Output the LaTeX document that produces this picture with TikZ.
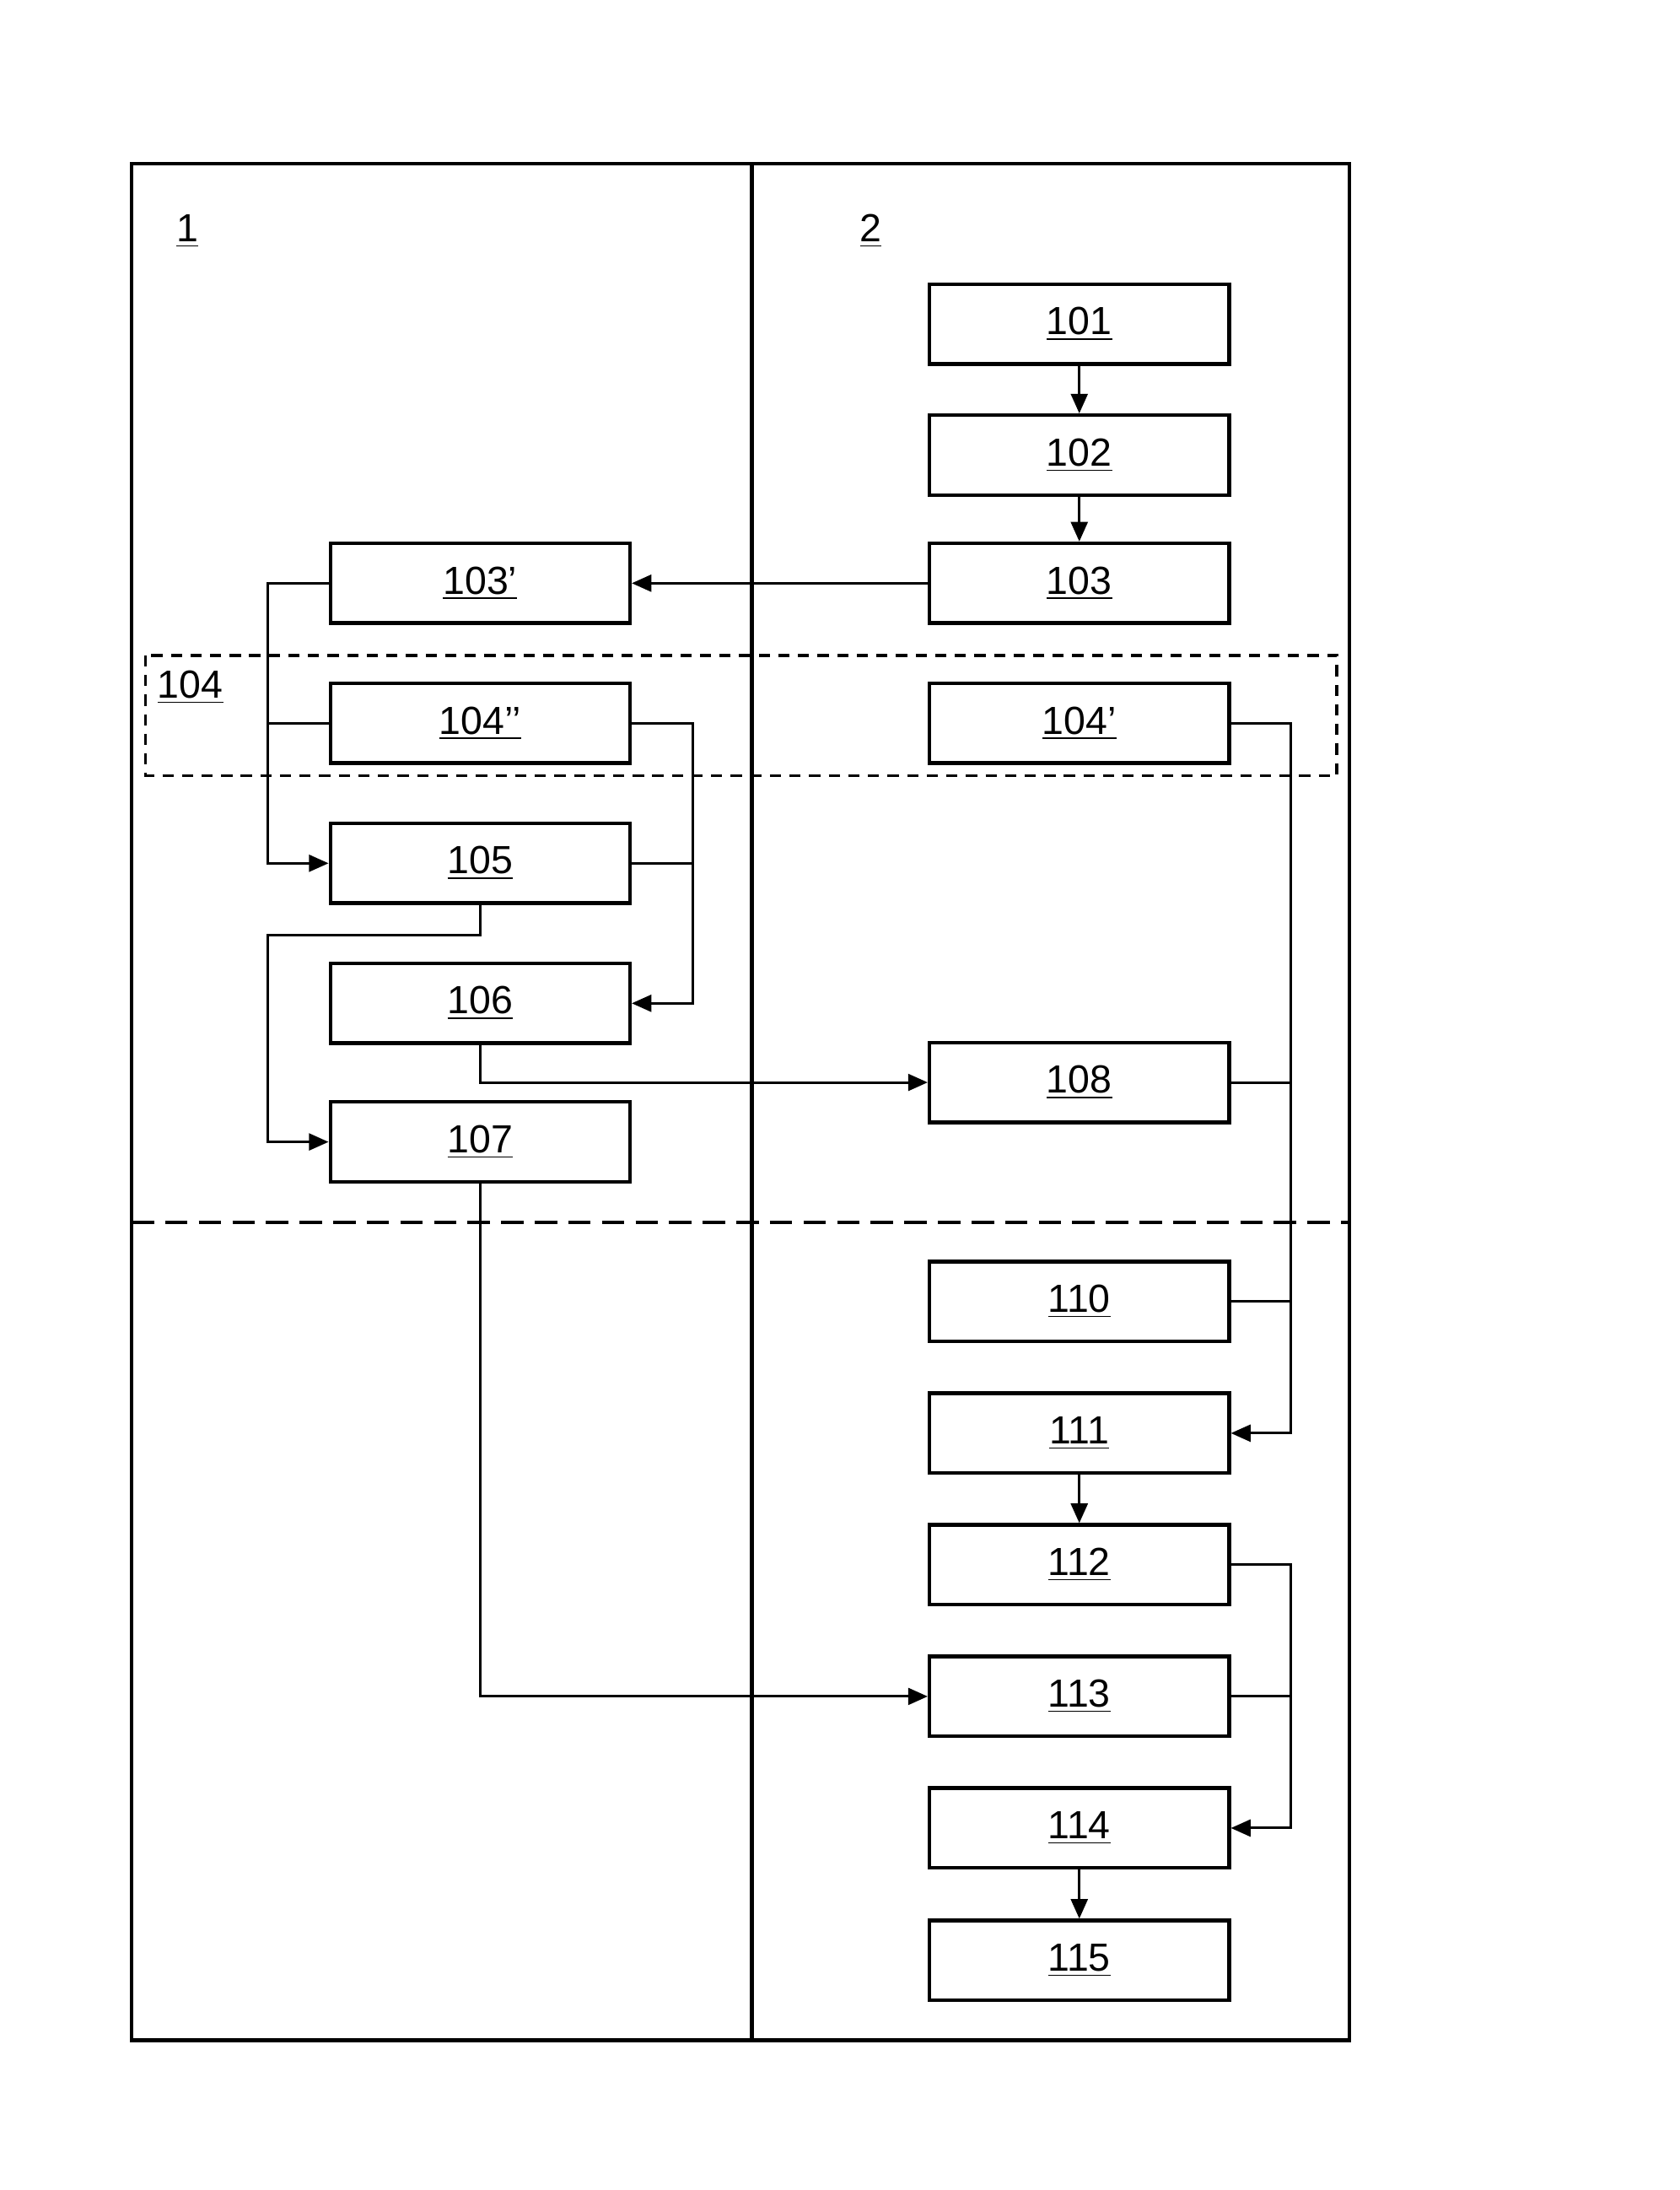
\documentclass[tikz,border=0pt]{standalone}
\usepackage{fontspec}
\setmainfont{Liberation Sans}
\usetikzlibrary{arrows.meta}
\begin{document}
\begin{tikzpicture}[x=0.5pt,y=-0.5pt,
  box/.style={draw,line width=1.3pt,minimum width=107pt,minimum height=28.5pt,inner sep=0pt,font=\fontsize{14}{16}\selectfont},
  lbl/.style={font=\fontsize{14}{16}\selectfont},
  con/.style={line width=0.9pt},
  arr/.style={con,-{Triangle[length=7pt,width=6pt]}}]
\useasboundingbox (0,0) rectangle (1200,1564);
\draw[line width=1.3pt] (94,117) rectangle (964,1457);
\draw[line width=1.3pt] (537,117) -- (537,1457);
\draw[line width=1.3pt,dash pattern=on 8pt off 4pt] (94,873) -- (964,873);
\draw[line width=1.1pt,dash pattern=on 4pt off 3pt] (104,468) rectangle (955,554);
\node[lbl] (l1) at (134,165) {\underline{1}};
\node[lbl] (l2) at (622,165) {\underline{2}};
\node[lbl] (l104) at (136,491) {\underline{104}};
\node[box] (n101) at (771,231.5) {\underline{101}};
\node[box] (n102) at (771,325) {\underline{102}};
\node[box] (n103) at (771,416.5) {\underline{103}};
\node[box] (n104a) at (771,516.5) {\underline{104’}};
\node[box] (n108) at (771,773) {\underline{108}};
\node[box] (n110) at (771,929.5) {\underline{110}};
\node[box] (n111) at (771,1023.5) {\underline{111}};
\node[box] (n112) at (771,1117.5) {\underline{112}};
\node[box] (n113) at (771,1211.5) {\underline{113}};
\node[box] (n114) at (771,1305.5) {\underline{114}};
\node[box] (n115) at (771,1400) {\underline{115}};
\node[box] (n103b) at (343,416.5) {\underline{103’}};
\node[box] (n104b) at (343,516.5) {\underline{104’’}};
\node[box] (n105) at (343,616.5) {\underline{105}};
\node[box] (n106) at (343,716.5) {\underline{106}};
\node[box] (n107) at (343,815.5) {\underline{107}};
\draw[arr] (n101) -- (n102);
\draw[arr] (n102) -- (n103);
\draw[arr] (n111) -- (n112);
\draw[arr] (n114) -- (n115);
\draw[arr] (n103) -- (n103b);
\draw[arr] (n103b.west) -- (191,416.5) -- (191,616.5) -- (n105.west);
\draw[con] (n104b.west) -- (191,516.5);
\draw[arr] (n104b.east) -- (495,516.5) -- (495,716.5) -- (n106.east);
\draw[con] (n105.east) -- (495,616.5);
\draw[arr] (n105.south) -- (343,668) -- (191,668) -- (191,815.5) -- (n107.west);
\draw[arr] (n106.south) -- (343,773) -- (n108.west);
\draw[arr] (n104a.east) -- (922,516.5) -- (922,1023.5) -- (n111.east);
\draw[con] (n108.east) -- (922,773);
\draw[con] (n110.east) -- (922,929.5);
\draw[arr] (n107.south) -- (343,1211.5) -- (n113.west);
\draw[arr] (n112.east) -- (922,1117.5) -- (922,1305.5) -- (n114.east);
\draw[con] (n113.east) -- (922,1211.5);
\end{tikzpicture}
\end{document}
